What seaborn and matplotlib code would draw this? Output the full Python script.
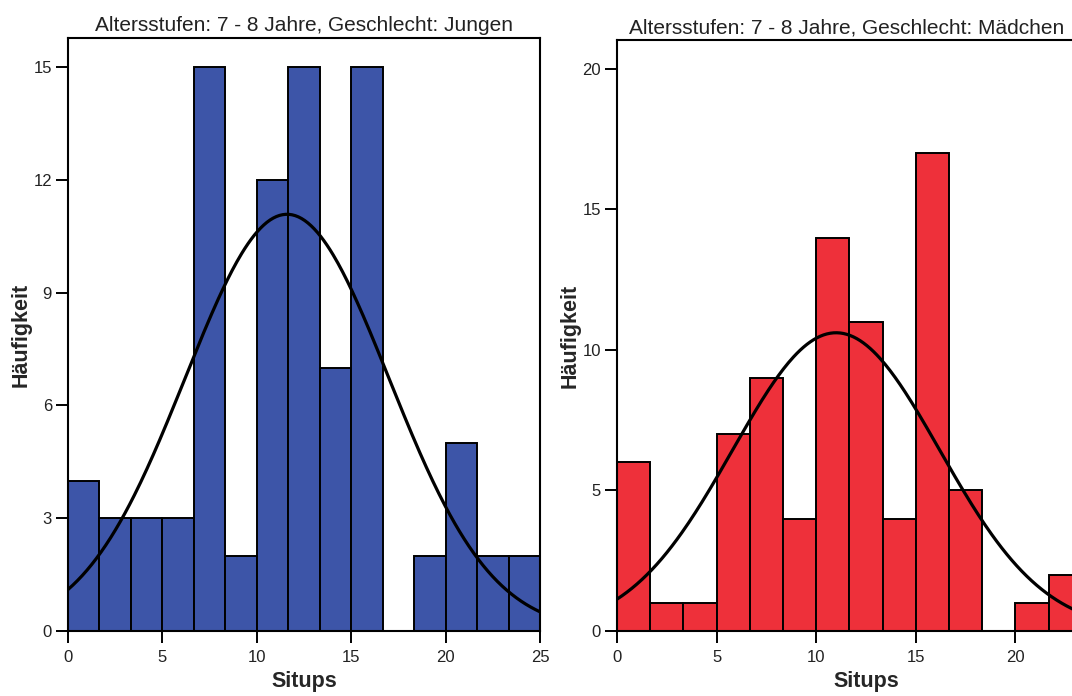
import numpy as np
import pandas as pd
import matplotlib
matplotlib.use("Agg")
import matplotlib.pyplot as plt
import seaborn as sns

# ---- data ----
x_min, x_max, n_bins = 0, 25, 15
jungen_counts = [4, 3, 3, 3, 15, 2, 12, 15, 7, 15, 0, 2, 5, 2, 2]
maedchen_counts = [6, 1, 1, 7, 9, 4, 14, 11, 4, 17, 5, 0, 1, 2, 1]
jungen_mean, jungen_sd = 11.6, 5.4
maedchen_mean, maedchen_sd = 11.0, 5.2
title_jungen = "Altersstufen: 7 - 8 Jahre, Geschlecht: Jungen"
title_maedchen = "Altersstufen: 7 - 8 Jahre, Geschlecht: Mädchen"
x_label = "Situps"
y_label = "Häufigkeit"
jungen_yticks = [0, 3, 6, 9, 12, 15]
maedchen_yticks = [0, 5, 10, 15, 20]
jungen_xticks = [0, 5, 10, 15, 20, 25]
maedchen_xticks = [0, 5, 10, 15, 20]

sns.set_style("white")
plt.rcParams['font.family'] = ['Liberation Sans', 'DejaVu Sans']

W, H = 1072, 696
fig = plt.figure(figsize=(W / 100, H / 100), dpi=100)

def axpos(x0, x1, ytop, ybot):
    return [x0 / W, (H - ybot) / H, (x1 - x0) / W, (ybot - ytop) / H]

ax1 = fig.add_axes(axpos(68, 540, 38, 631))
ax2 = fig.add_axes(axpos(617, 1115, 40, 631))

bw = (x_max - x_min) / n_bins
centers = x_min + bw * (np.arange(n_bins) + 0.5)

def panel(ax, counts, color, mean, sd, ylim, xticks, yticks, title, title_x):
    df = pd.DataFrame({"x": centers, "w": counts})
    sns.histplot(data=df, x="x", weights="w", binwidth=bw, binrange=(x_min, x_max),
                 ax=ax, color=color, alpha=1, edgecolor="black", linewidth=1.4)
    n = sum(counts)
    xs = np.linspace(x_min, x_max, 300)
    ys = n * bw / (sd * np.sqrt(2 * np.pi)) * np.exp(-0.5 * ((xs - mean) / sd) ** 2)
    sns.lineplot(x=xs, y=ys, ax=ax, color="black", linewidth=2.3)
    ax.set_xlim(x_min, x_max)
    ax.set_ylim(0, ylim)
    ax.set_xticks(xticks)
    ax.set_yticks(yticks)
    ax.tick_params(axis="both", direction="out", length=8.5, width=1.4,
                   labelsize=12, labelcolor="#222222", color="black",
                   bottom=True, left=True)
    ax.tick_params(axis="x", pad=5)
    ax.tick_params(axis="y", pad=3)
    for s in ax.spines.values():
        s.set_visible(True)
        s.set_color("black")
        s.set_linewidth(1.5)
    ax.set_xlabel(x_label, fontsize=15.5, fontweight="bold", labelpad=4.5)
    ax.set_ylabel(y_label, fontsize=15.5, fontweight="bold", labelpad=1.5)
    ax.set_title(title, fontsize=15, x=title_x, pad=5, color="#222222")

panel(ax1, jungen_counts, "#3D55A8", jungen_mean, jungen_sd, 15.77,
      jungen_xticks, jungen_yticks, title_jungen, 0.5)
panel(ax2, maedchen_counts, "#EE303A", maedchen_mean, maedchen_sd, 21.03,
      maedchen_xticks, maedchen_yticks, title_maedchen, 0.462)

fig.savefig("out.png", dpi=100)
